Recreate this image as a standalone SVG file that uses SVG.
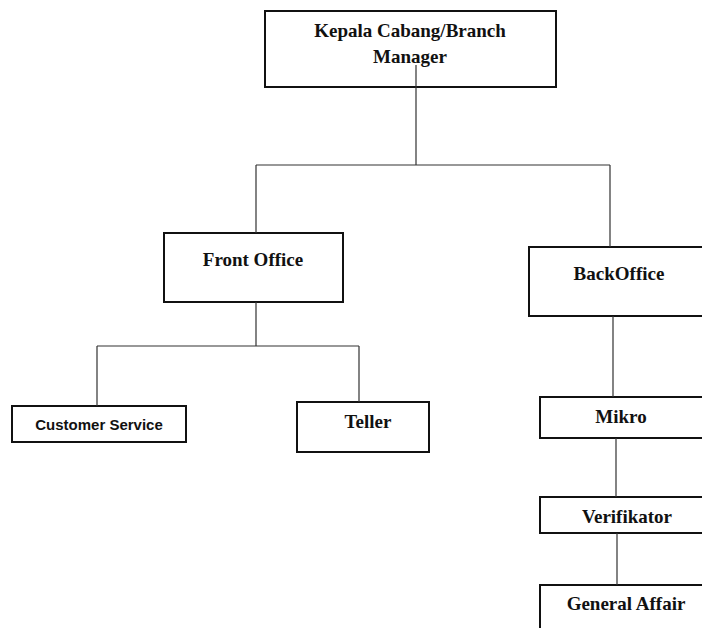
<svg xmlns="http://www.w3.org/2000/svg" width="702" height="628" viewBox="0 0 702 628">
<style>
.box{fill:#fff;stroke:#111;stroke-width:2}
.t{font-family:"Liberation Serif","Times New Roman",serif;font-weight:bold;font-size:19px;fill:#111;text-anchor:middle}
.s{font-family:"Liberation Sans",Arial,sans-serif;font-weight:bold;font-size:15px;fill:#111;text-anchor:middle}
.c{fill:none;stroke:#333;stroke-width:1.2}
</style>
<rect width="702" height="628" fill="#fff"/>
<g id="n-manager"><rect class="box" x="265" y="11" width="291" height="76"/><text class="t" x="410" y="37">Kepala Cabang/Branch</text><text class="t" x="410" y="63">Manager</text></g>
<g id="n-front"><rect class="box" x="164" y="233" width="179" height="69"/><text class="t" x="253" y="266">Front Office</text></g>
<g id="n-back"><rect class="box" x="529" y="247" width="180" height="69"/><text class="t" x="619" y="280">BackOffice</text></g>
<g id="n-cs"><rect class="box" x="12" y="406" width="174" height="36"/><text class="s" x="99" y="430">Customer Service</text></g>
<g id="n-teller"><rect class="box" x="297" y="402" width="132" height="50"/><text class="t" x="368" y="428">Teller</text></g>
<g id="n-mikro"><rect class="box" x="540" y="397" width="170" height="41"/><text class="t" x="621" y="423">Mikro</text></g>
<g id="n-verif"><rect class="box" x="540" y="497" width="170" height="36"/><text class="t" x="627" y="523">Verifikator</text></g>
<g id="n-ga"><rect class="box" x="540" y="585" width="170" height="60"/><text class="t" x="626" y="610">General Affair</text></g>
<g id="connectors">
<path class="c" d="M416 65V165M256 165H610M256 165V233M610 165V247"/>
<path class="c" d="M256 302V346M97 346H359M97 346V406M359 346V402"/>
<path class="c" d="M613 316V397M616 438V497M617 533V585"/>
</g>
</svg>
